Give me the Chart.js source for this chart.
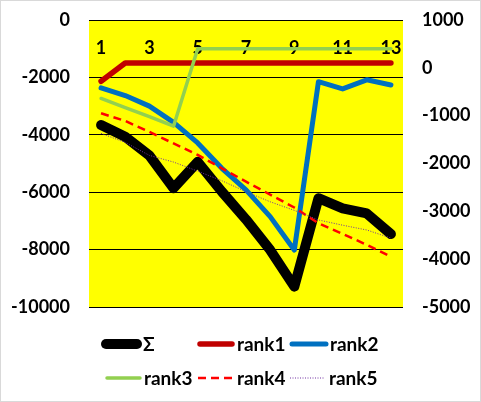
<!DOCTYPE html>
<html>
<head>
<meta charset="utf-8">
<script src="https://cdn.jsdelivr.net/npm/chart.js@4.4.0/dist/chart.umd.min.js"></script>
<style>
  body { margin: 0; background: #fff; }
  #wrap { width: 481px; height: 402px; position: relative; }
  canvas { outline: 1px solid #d9d9d9; outline-offset: -1px; }
</style>
</head>
<body>
<div id="wrap"><canvas id="chart"></canvas></div>
<script>
// categories and series (Σ on the left axis, ranks on the right axis)
const categories = ['1', '2', '3', '4', '5', '6', '7', '8', '9', '10', '11', '12', '13'];
const sigma = [-3660, -4070, -4720, -5860, -4940, -5980, -6950, -8010, -9290, -6210, -6560, -6740, -7460];
const rank1 = [-280, 100, 100, 100, 100, 100, 100, 100, 100, 100, 100, 100, 100];
const rank2 = [-420, -580, -800, -1140, -1570, -2100, -2550, -3110, -3810, -290, -440, -250, -360];
const rank3 = [-640, -830, -1020, -1220, 400, 400, 400, 400, 400, 400, 400, 400, 400];
const rank4 = [-950, -1110, -1340, -1580, -1820, -2100, -2380, -2650, -2920, -3250, -3470, -3700, -3950];
const rank5 = [-1370, -1560, -1830, -1970, -2160, -2360, -2590, -2800, -2980, -3180, -3290, -3390, -3560];
const seriesNames = ['Σ', 'rank1', 'rank2', 'rank3', 'rank4', 'rank5'];

const FONT = { family: 'Lato', size: 18, weight: 'bold' };

function lineSet(label, data, color, width, axis, dash, order) {
    return {
        label: label,
        data: data,
        yAxisID: axis,
        borderColor: color,
        backgroundColor: color,
        borderWidth: width,
        borderDash: dash,
        borderCapStyle: dash.length ? 'butt' : 'round',
        borderJoinStyle: 'round',
        pointRadius: 0,
        tension: 0,
        order: order
    };
}

const datasets = [
    lineSet(seriesNames[0], sigma, '#000000', 10, 'y', [], 6),
    lineSet(seriesNames[1], rank1, '#C00000', 5.5, 'y1', [], 5),
    lineSet(seriesNames[2], rank2, '#0070C0', 5, 'y1', [], 4),
    lineSet(seriesNames[3], rank3, '#92D050', 3.5, 'y1', [], 3),
    lineSet(seriesNames[4], rank4, '#FF0000', 2.5, 'y1', [8, 5], 2),
    lineSet(seriesNames[5], rank5, '#7030A0', 1, 'y1', [1, 1.5], 1)
];

// yellow plot area
const plotBg = {
    id: 'plotBg',
    beforeDraw(chart) {
        const a = chart.chartArea;
        const ctx = chart.ctx;
        ctx.save();
        ctx.fillStyle = '#FFFF00';
        ctx.fillRect(a.left, a.top, a.right - a.left, a.bottom - a.top);
        ctx.restore();
    }
};

// legend laid out in three columns like the original
const legendSlots = [
    { x1: 106, x2: 137, tx: 143, y: 344 },
    { x1: 200, x2: 232, tx: 237, y: 344 },
    { x1: 292, x2: 326, tx: 330, y: 344 },
    { x1: 107, x2: 140, tx: 144, y: 378 },
    { x1: 198, x2: 233, tx: 237, y: 378 },
    { x1: 290, x2: 325, tx: 329, y: 378 }
];
const gridLegend = {
    id: 'gridLegend',
    afterDraw(chart) {
        const ctx = chart.ctx;
        ctx.save();
        chart.data.datasets.forEach((ds, i) => {
            const s = legendSlots[i];
            ctx.beginPath();
            ctx.strokeStyle = ds.borderColor;
            ctx.lineWidth = ds.borderWidth;
            ctx.lineCap = ds.borderCapStyle;
            ctx.setLineDash(ds.borderDash);
            ctx.moveTo(s.x1, s.y);
            ctx.lineTo(s.x2, s.y);
            ctx.stroke();
            ctx.setLineDash([]);
            ctx.fillStyle = '#000';
            ctx.font = 'bold 19px Lato';
            ctx.textBaseline = 'middle';
            ctx.textAlign = 'left';
            ctx.fillText(ds.label, s.tx, s.y + 1);
        });
        ctx.restore();
    }
};

const plain = v => String(v);

// fixed axis width; drop the tick padding from the vertical overflow
function fitY(width) {
    return function (scale) {
        scale.width = width;
        scale.paddingTop = 11;
        scale.paddingBottom = 11;
    };
}

new Chart(document.getElementById('chart'), {
    type: 'line',
    data: { labels: categories, datasets: datasets },
    options: {
        responsive: true,
        maintainAspectRatio: false,
        animation: false,
        layout: { padding: { top: 20, bottom: 95, left: 0, right: 0 } },
        plugins: {
            legend: { display: false },
            tooltip: { enabled: false }
        },
        scales: {
            x: {
                position: { y: 0 },
                offset: true,
                grid: { display: false, drawTicks: false },
                border: { display: false },
                ticks: {
                    autoSkip: false,
                    maxRotation: 0,
                    padding: 17.5,
                    color: '#000',
                    font: FONT,
                    callback: (v, i) => (i % 2 === 0 ? categories[i] : '')
                }
            },
            y: {
                position: 'left',
                min: -10000,
                max: 0,
                grid: { color: '#000', lineWidth: 1, drawTicks: false },
                border: { display: false },
                ticks: { stepSize: 2000, padding: 19, color: '#000', font: FONT, callback: plain },
                afterFit: fitY(89)
            },
            y1: {
                position: 'right',
                min: -5000,
                max: 1000,
                grid: { display: false, drawTicks: false },
                border: { display: false },
                ticks: { stepSize: 1000, padding: 19, color: '#000', font: FONT, callback: plain },
                afterFit: fitY(78)
            }
        }
    },
    plugins: [plotBg, gridLegend]
});
</script>
</body>
</html>
